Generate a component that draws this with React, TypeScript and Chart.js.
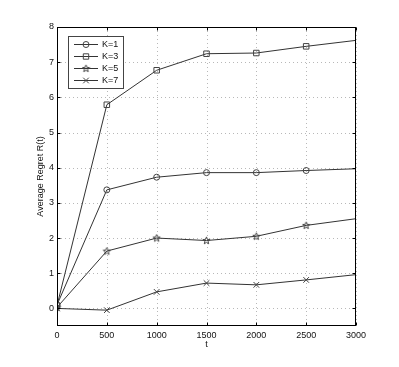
import React, { useEffect, useRef } from 'react';
import { Chart, registerables } from 'chart.js';

Chart.register(...registerables);

const tValues = [0, 500, 1000, 1500, 2000, 2500, 3000];
const k1 = [0.1, 3.37, 3.73, 3.86, 3.86, 3.92, 3.97];
const k3 = [0.08, 5.79, 6.77, 7.24, 7.26, 7.45, 7.62];
const k5 = [0.03, 1.63, 2.0, 1.93, 2.05, 2.36, 2.55];
const k7 = [0.0, -0.05, 0.47, 0.72, 0.67, 0.81, 0.96];
const seriesLabels = ['K=1', 'K=3', 'K=5', 'K=7'];
const xTicks = [0, 500, 1000, 1500, 2000, 2500, 3000];
const yTicks = [0, 1, 2, 3, 4, 5, 6, 7, 8];
const xTitle = 't';
const yTitle = 'Average Regret R(t)';

const FAMILY = '"Liberation Sans", Arial, Helvetica, sans-serif';
const FONT = '9px ' + FAMILY;
const LINE = '#333333';
const MARK = '#444444';

function makeStar(): HTMLCanvasElement {
  const c = document.createElement('canvas');
  c.width = 9;
  c.height = 9;
  const g = c.getContext('2d')!;
  const cx = 4.5, cy = 4.7, ro = 3.8, ri = 1.6;
  g.beginPath();
  for (let i = 0; i < 10; i++) {
    const r = i % 2 === 0 ? ro : ri;
    const a = -Math.PI / 2 + (i * Math.PI) / 5;
    const px = cx + r * Math.cos(a);
    const py = cy + r * Math.sin(a);
    if (i === 0) g.moveTo(px, py); else g.lineTo(px, py);
  }
  g.closePath();
  g.strokeStyle = MARK;
  g.lineWidth = 1;
  g.stroke();
  return c;
}

function drawMarker(ctx: CanvasRenderingContext2D, kind: string, x: number, y: number, star: HTMLCanvasElement) {
  ctx.save();
  ctx.strokeStyle = MARK;
  ctx.lineWidth = 1;
  ctx.beginPath();
  if (kind === 'circle') {
    ctx.arc(x, y, 3, 0, Math.PI * 2);
    ctx.stroke();
  } else if (kind === 'rect') {
    ctx.rect(x - 2.7, y - 2.7, 5.4, 5.4);
    ctx.stroke();
  } else if (kind === 'crossRot') {
    ctx.moveTo(x - 2.8, y - 2.8); ctx.lineTo(x + 2.8, y + 2.8);
    ctx.moveTo(x + 2.8, y - 2.8); ctx.lineTo(x - 2.8, y + 2.8);
    ctx.stroke();
  } else {
    ctx.drawImage(star, x - star.width / 2, y - star.height / 2);
  }
  ctx.restore();
}

export default function App() {
  const ref = useRef<HTMLCanvasElement | null>(null);

  useEffect(() => {
    document.body.style.margin = '0';
    const canvas = ref.current!;
    const star = makeStar();
    const styles: any[] = ['circle', 'rect', star, 'crossRot'];
    const kinds = ['circle', 'rect', 'star', 'crossRot'];
    const radii = [3, 3.9, 4, 4];
    const all = [k1, k3, k5, k7];

    const datasets = all.map((arr, i) => ({
      label: seriesLabels[i],
      data: tValues.map((t, j) => ({ x: t, y: arr[j] })),
      borderColor: LINE,
      borderWidth: 1,
      pointStyle: styles[i],
      pointRadius: tValues.map((_, j) => (j === tValues.length - 1 ? 0 : radii[i])),
      pointBorderColor: MARK,
      pointBackgroundColor: 'rgba(0,0,0,0)',
      pointBorderWidth: 1,
      tension: 0,
      fill: false,
    }));

    const decor = {
      id: 'decor',
      beforeDatasetsDraw(chart: any) {
        const { ctx, chartArea: a, scales } = chart;
        ctx.save();
        ctx.strokeStyle = '#b8b8b8';
        ctx.lineWidth = 1;
        ctx.setLineDash([1, 3]);
        xTicks.forEach((v) => {
          const px = Math.round(scales.x.getPixelForValue(v)) + 0.5;
          ctx.beginPath(); ctx.moveTo(px, a.top); ctx.lineTo(px, a.bottom); ctx.stroke();
        });
        yTicks.forEach((v) => {
          const py = Math.round(scales.y.getPixelForValue(v)) + 0.5;
          ctx.beginPath(); ctx.moveTo(a.left, py); ctx.lineTo(a.right, py); ctx.stroke();
        });
        ctx.restore();
      },
      afterDraw(chart: any) {
        const { ctx, chartArea: a, scales } = chart;
        ctx.save();
        ctx.strokeStyle = '#000';
        ctx.lineWidth = 1;
        ctx.setLineDash([]);
        const L = Math.round(a.left) + 0.5, R = Math.round(a.right) - 0.5;
        const T = Math.round(a.top) + 0.5, B = Math.round(a.bottom) - 0.5;
        ctx.strokeRect(L, T, R - L, B - T);
        const tl = 3;
        xTicks.forEach((v) => {
          const px = Math.round(scales.x.getPixelForValue(v)) + 0.5;
          ctx.beginPath();
          ctx.moveTo(px, B); ctx.lineTo(px, B - tl);
          ctx.moveTo(px, T); ctx.lineTo(px, T + tl);
          ctx.stroke();
        });
        yTicks.forEach((v) => {
          const py = Math.round(scales.y.getPixelForValue(v)) + 0.5;
          ctx.beginPath();
          ctx.moveTo(L, py); ctx.lineTo(L + tl, py);
          ctx.moveTo(R, py); ctx.lineTo(R - tl, py);
          ctx.stroke();
        });
        ctx.fillStyle = '#111';
        ctx.font = FONT;
        ctx.textAlign = 'center';
        ctx.textBaseline = 'middle';
        ctx.fillText(xTitle, (a.left + a.right) / 2, 345);
        ctx.save();
        ctx.translate(41, (a.top + a.bottom) / 2);
        ctx.rotate(-Math.PI / 2);
        ctx.fillText(yTitle, 0, 0);
        ctx.restore();
        const bx = 68, by = 36, bw = 55, bh = 52;
        ctx.fillStyle = '#fff';
        ctx.fillRect(bx, by, bw, bh);
        ctx.strokeStyle = '#444';
        ctx.strokeRect(bx + 0.5, by + 0.5, bw, bh);
        seriesLabels.forEach((lab, i) => {
          const y = 44.5 + i * 12;
          ctx.strokeStyle = LINE;
          ctx.beginPath();
          ctx.moveTo(74, y); ctx.lineTo(98, y);
          ctx.stroke();
          drawMarker(ctx, kinds[i], 86, y, star);
          ctx.fillStyle = '#111';
          ctx.textAlign = 'left';
          ctx.textBaseline = 'middle';
          ctx.fillText(lab, 102, y + 0.5);
        });
        ctx.restore();
      },
    };

    const chart = new Chart(canvas, {
      type: 'line',
      data: { datasets },
      options: {
        animation: false,
        responsive: false,
        maintainAspectRatio: false,
        layout: { padding: { left: 0, top: 27, right: 43, bottom: 0 } },
        plugins: { legend: { display: false }, tooltip: { enabled: false } },
        scales: {
          x: {
            type: 'linear',
            min: 0,
            max: 3000,
            afterBuildTicks: (s: any) => { s.ticks = xTicks.map((v) => ({ value: v })); },
            afterFit: (s: any) => { s.height = 41; },
            grid: { display: false, drawTicks: false },
            border: { display: false },
            ticks: { padding: 4, color: '#111', font: { family: FAMILY, size: 9 }, maxRotation: 0, autoSkip: false, callback: (v: any) => String(v) },
          },
          y: {
            type: 'linear',
            min: -0.5,
            max: 8,
            afterBuildTicks: (s: any) => { s.ticks = yTicks.map((v) => ({ value: v })); },
            afterFit: (s: any) => { s.width = 57; },
            grid: { display: false, drawTicks: false },
            border: { display: false },
            ticks: { padding: 3, color: '#111', font: { family: FAMILY, size: 9 }, autoSkip: false, callback: (v: any) => String(v) },
          },
        },
      },
      plugins: [decor],
    } as any);

    return () => chart.destroy();
  }, []);

  return (
    <div style={{ width: 399, height: 367 }}>
      <canvas ref={ref} width={399} height={367} style={{ display: 'block' }} />
    </div>
  );
}
